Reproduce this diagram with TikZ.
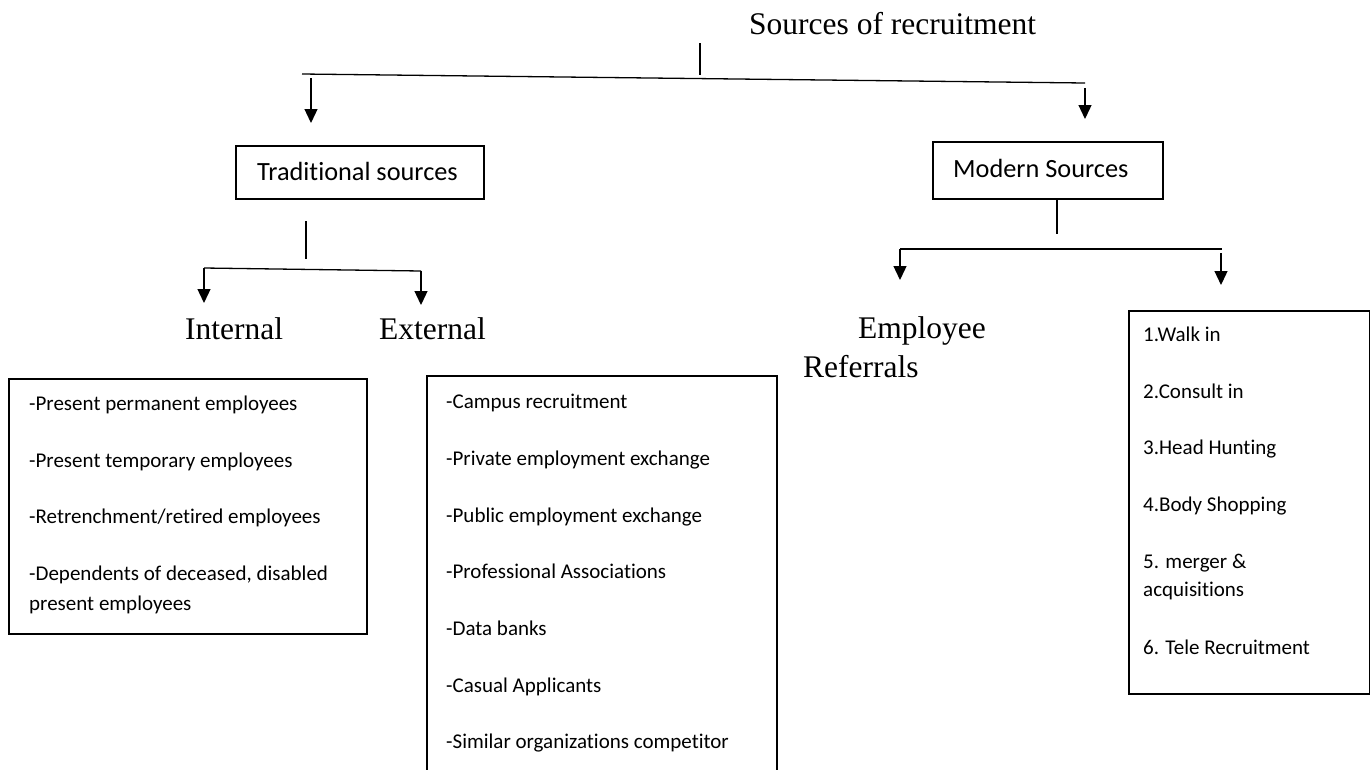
\documentclass[tikz,border=0pt]{standalone}
\usepackage{fontspec}
\setmainfont{Liberation Serif}
\newfontfamily\calfont[Ligatures=NoCommon]{Carlito}
\usetikzlibrary{arrows.meta}
\tikzset{
  conn/.style={line width=1.3pt},
  arr/.style={line width=1.3pt,-{Triangle[length=14pt,width=13pt]}},
  boxframe/.style={draw,line width=1.8pt,inner sep=0pt},
  serif/.style={font=\fontsize{31.5}{36}\selectfont,inner sep=0pt,anchor=base west},
  lab/.style={anchor=base west,inner sep=0pt,font=\calfont\fontsize{26.3}{30}\selectfont},
  item/.style={anchor=base west,inner sep=0pt,font=\calfont\fontsize{21}{25}\selectfont}
}
\begin{document}
\begin{tikzpicture}[x=1pt,y=-1pt]
\useasboundingbox (0,0) rectangle (1370,769);

% title and first level
\node[serif] (title) at (749,34) {Sources of recruitment};
\coordinate (stubT) at (700,43);
\coordinate (stubB) at (700,75);
\coordinate (mainL) at (302,74);
\coordinate (mainR) at (1085,83);
\coordinate (aLs) at (311,78);
\coordinate (aLe) at (311,123);
\coordinate (aRs) at (1085,88);
\coordinate (aRe) at (1085,119);
\draw[conn] (stubT) -- (stubB);
\draw[conn] (mainL) -- (mainR);
\draw[arr] (aLs) -- (aLe);
\draw[arr] (aRs) -- (aRe);

% traditional branch
\node[boxframe,anchor=north west,minimum width=248pt,minimum height=53pt] (trad) at (235,145) {};
\node[lab] (tradtxt) at (257,180) {Traditional sources};
\coordinate (tvT) at (306,221);
\coordinate (tvB) at (306,259);
\coordinate (thL) at (204,268);
\coordinate (thR) at (421,271);
\coordinate (tLe) at (204,303);
\coordinate (tRe) at (421,305);
\draw[conn] (tvT) -- (tvB);
\draw[conn] (thL) -- (thR);
\draw[arr] (thL) -- (tLe);
\draw[arr] (thR) -- (tRe);

\node[serif] (internal) at (185,339) {Internal};
\node[serif] (external) at (379,339) {External};

% internal box
\node[boxframe,anchor=north west,minimum width=358pt,minimum height=255pt] (intbox) at (8,378) {};
\node[item] (i1) at (29,410) {-Present permanent employees};
\node[item] (i2) at (29,467) {-Present temporary employees};
\node[item] (i3) at (29,523) {-Retrenchment/retired employees};
\node[item] (i4) at (29,580) {-Dependents of deceased, disabled};
\node[item] (i5) at (29,610) {present employees};

% external box (open at the bottom edge of the page)
\node[boxframe,anchor=north west,minimum width=350pt,minimum height=430pt] (extbox) at (426,375) {};
\node[item] (e1) at (446,408) {-Campus recruitment};
\node[item] (e2) at (446,465) {-Private employment exchange};
\node[item] (e3) at (446,522) {-Public employment exchange};
\node[item] (e4) at (446,578) {-Professional Associations};
\node[item] (e5) at (446,635) {-Data banks};
\node[item] (e6) at (446,692) {-Casual Applicants};
\node[item] (e7) at (446,748) {-Similar organizations competitor};

% modern branch
\node[boxframe,anchor=north west,minimum width=230pt,minimum height=57pt] (modern) at (932,141) {};
\node[lab] (moderntxt) at (953,177) {Modern Sources};
\coordinate (mvB) at (1057,234);
\coordinate (mhL) at (900,249);
\coordinate (mhR) at (1222,249);
\coordinate (mLe) at (900,280);
\coordinate (mRs) at (1221,253);
\coordinate (mRe) at (1221,285);
\draw[conn] (modern.south -| mvB) -- (mvB);
\draw[conn] (mhL) -- (mhR);
\draw[arr] (mhL) -- (mLe);
\draw[arr] (mRs) -- (mRe);

\node[serif] (employee) at (858,338) {Employee};
\node[serif] (referrals) at (803,377) {Referrals};

% right box
\node[boxframe,anchor=north west,minimum width=241pt,minimum height=383pt] (rbox) at (1128,310) {};
\node[item] (r1) at (1143,341) {1.Walk in};
\node[item] (r2) at (1143,398) {2.Consult in};
\node[item] (r3) at (1143,454) {3.Head Hunting};
\node[item] (r4) at (1143,511) {4.Body Shopping};
\node[item] (r5) at (1143,568) {5. merger \&};
\node[item] (r6) at (1143,596) {acquisitions};
\node[item] (r7) at (1143,654) {6. Tele Recruitment};
\end{tikzpicture}
\end{document}
